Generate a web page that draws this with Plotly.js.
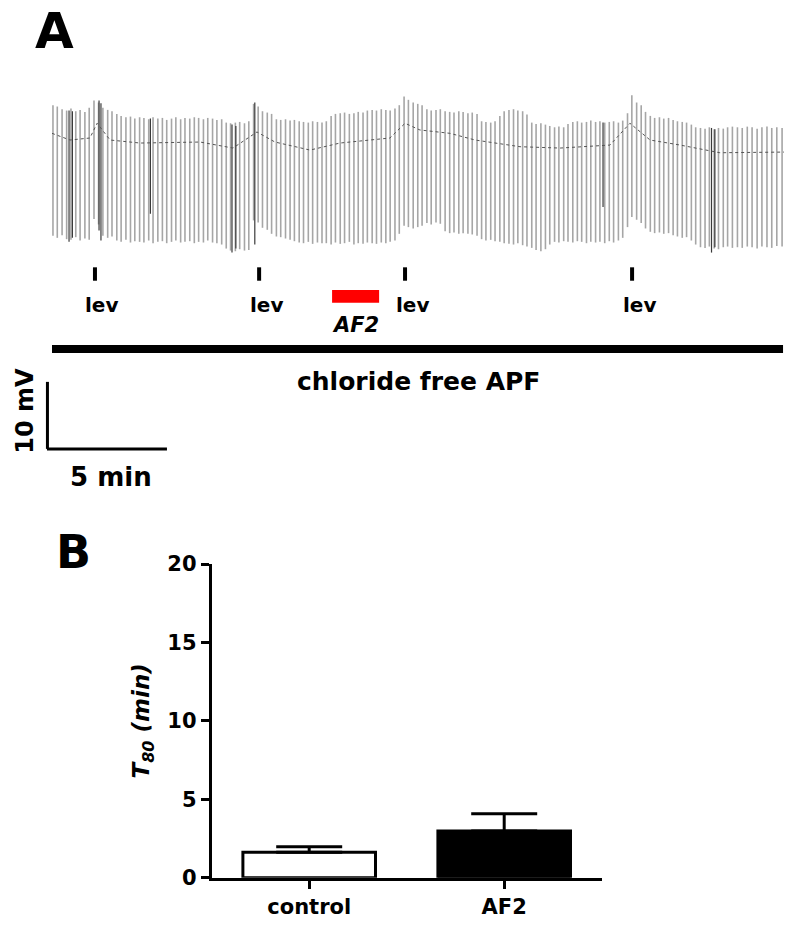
<!DOCTYPE html>
<html>
<head>
<meta charset="utf-8">
<script src="https://cdn.plot.ly/plotly-3.0.1.min.js"></script>
<style>
  body { margin: 0; background: #ffffff; }
  #chart { width: 800px; height: 929px; }
</style>
</head>
<body>
<div id="chart"></div>
<script>
// ---- panel A: membrane potential trace (time in min, potential in mV rel. to rest) ----
var spikeTime = [
  0.04, 0.22, 0.42, 0.61, 0.79, 0.99, 1.17, 1.37, 1.55, 1.75,
  1.94, 2.12, 2.32, 2.50, 2.70, 2.88, 3.08, 3.27, 3.45, 3.65,
  3.83, 4.03, 4.21, 4.41, 4.60, 4.78, 4.98, 5.16, 5.36, 5.54,
  5.74, 5.93, 6.11, 6.31, 6.49, 6.69, 6.87, 7.07, 7.26, 7.44,
  7.64, 7.82, 8.02, 8.20, 8.40, 8.59, 8.77, 8.97, 9.15, 9.35,
  9.53, 9.73, 9.92, 10.10, 10.30, 10.48, 10.68, 10.86, 11.06, 11.25,
  11.43, 11.63, 11.81, 12.01, 12.19, 12.39, 12.58, 12.76, 12.96, 13.14,
  13.34, 13.52, 13.72, 13.91, 14.09, 14.29, 14.47, 14.67, 14.85, 15.05,
  15.24, 15.42, 15.62, 15.80, 16.00, 16.18, 16.38, 16.57, 16.75, 16.95,
  17.13, 17.33, 17.51, 17.71, 17.90, 18.08, 18.28, 18.46, 18.66, 18.84,
  19.04, 19.23, 19.41, 19.61, 19.79, 19.99, 20.17, 20.37, 20.56, 20.74,
  20.94, 21.12, 21.32, 21.50, 21.70, 21.89, 22.07, 22.27, 22.45, 22.65,
  22.83, 23.03, 23.22, 23.40, 23.60, 23.78, 23.98, 24.16, 24.36, 24.55,
  24.73, 24.93, 25.11, 25.31, 25.49, 25.69, 25.88, 26.06, 26.26, 26.44,
  26.64, 26.82, 27.02, 27.21, 27.39, 27.59, 27.77, 27.97, 28.15, 28.35,
  28.56, 28.76, 28.97, 29.17, 29.38, 29.58, 29.79, 29.99, 30.20, 30.42
];
var spikeTop = [
  5.2, 5.0, 4.6, 4.4, 4.7, 4.3, 4.5, 4.2, 4.8, 5.9,
  5.6, 4.8, 4.5, 4.3, 3.9, 3.6, 3.4, 3.5, 3.2, 3.4,
  3.3, 3.1, 3.4, 3.2, 3.3, 3.0, 3.2, 3.4, 3.1, 3.3,
  3.2, 3.4, 3.3, 3.1, 3.3, 3.2, 3.0, 3.1, 2.6, 2.5,
  2.6, 2.7, 2.5, 2.8, 5.4, 5.0, 4.3, 4.1, 3.9, 3.1,
  3.0, 3.1, 2.9, 3.0, 2.8, 2.7, 2.6, 2.8, 2.7, 2.6,
  2.8, 3.6, 3.9, 4.0, 4.1, 3.9, 4.0, 4.2, 4.1, 4.4,
  4.5, 4.4, 4.6, 4.5, 4.4, 4.7, 5.2, 6.5, 6.0, 5.6,
  5.4, 5.2, 4.6, 4.4, 4.5, 4.6, 4.3, 4.2, 4.1, 4.3,
  4.2, 4.0, 4.1, 3.9, 2.8, 2.7, 2.6, 2.8, 3.6, 4.3,
  4.5, 4.6, 4.4, 4.3, 3.8, 2.6, 2.4, 2.5, 2.3, 2.1,
  1.9, 2.0, 1.9, 2.4, 2.7, 2.8, 2.6, 2.7, 2.9, 2.7,
  2.8, 2.6, 2.7, 2.8, 2.6, 2.9, 4.0, 6.7, 5.6, 5.2,
  4.2, 3.6, 3.3, 3.4, 3.2, 3.3, 3.0, 2.8, 2.7, 2.6,
  2.3, 1.9, 1.8, 1.7, 1.9, 1.6, 1.8, 1.7, 1.9, 2.0,
  1.9, 1.8, 2.0, 1.9, 1.7, 1.9, 2.0, 1.8, 1.9, 1.8
];
var spikeBottom = [
  -14.3, -14.6, -14.2, -14.8, -14.9, -14.5, -15.0, -14.7, -14.9, -11.8,
  -12.6, -14.3, -14.6, -14.4, -15.0, -15.2, -14.9, -15.3, -15.1, -15.2,
  -15.3, -15.0, -15.4, -15.2, -15.1, -15.4, -15.2, -15.0, -15.3, -15.2,
  -15.1, -15.4, -15.2, -15.3, -15.0, -15.3, -15.4, -15.6, -16.2, -16.5,
  -16.6, -16.3, -16.5, -16.4, -12.0, -12.3, -13.1, -13.4, -14.0, -14.4,
  -14.5, -14.7, -14.9, -15.1, -15.3, -15.4, -15.2, -15.5, -15.3, -15.4,
  -15.4, -15.6, -15.3, -15.5, -15.4, -15.2, -15.6, -15.4, -15.5, -15.3,
  -15.4, -15.5, -15.3, -15.4, -15.2, -15.0, -14.0, -12.8, -13.0, -13.2,
  -13.0, -12.8, -12.4, -12.6, -12.3, -12.5, -13.6, -13.9, -13.8, -14.0,
  -13.9, -14.0, -14.1, -14.3, -14.8, -15.0, -14.9, -15.1, -15.2, -15.4,
  -15.5, -15.6, -15.4, -15.7, -15.9, -16.1, -16.4, -16.6, -16.3, -15.6,
  -15.2, -15.3, -15.1, -15.2, -15.3, -15.1, -15.2, -15.4, -15.2, -15.3,
  -15.2, -15.4, -15.1, -15.3, -15.0, -14.6, -13.0, -11.5, -11.9, -12.4,
  -13.2, -13.7, -13.9, -13.8, -14.0, -13.9, -14.2, -14.4, -14.6, -14.5,
  -15.0, -15.6, -16.0, -16.1, -15.9, -16.2, -16.3, -16.0, -15.9, -16.1,
  -16.0, -16.1, -15.9, -16.0, -16.2, -15.9, -16.0, -16.1, -15.8, -15.9
];
// a few darker overlapping sweeps
var darkTime = [0.71, 0.85, 1.96, 2.04, 4.10, 7.50, 7.66, 8.45, 22.96, 27.48, 27.62];
var darkTop = [4.4, 4.3, 5.9, 5.5, 3.2, 2.3, 2.1, 5.6, 2.6, 1.8, 1.6];
var darkBottom = [-15.2, -14.6, -13.5, -15.0, -11.0, -16.8, -16.2, -15.6, -10.0, -16.8, -16.0];
// resting potential line
var restTime = [0, 0.75, 1.58, 1.88, 2.42, 3.67, 6.17, 7.54, 8.54, 9.29, 10.75, 12.0,
  14.08, 14.71, 15.33, 16.58, 17.63, 19.5, 21.17, 23.25, 24.08, 24.92, 26.17, 27.83, 30.5];
var restV = [1.0, 0, 0.3, 2.5, 0, -0.45, -0.3, -1.2, 1.2, -0.3, -1.5, -0.45,
  0.3, 2.5, 1.5, 1.0, 0, -1.0, -1.2, -0.75, 2.5, 0, -0.75, -1.9, -1.8];

// levamisole applications and AF2 / perfusion periods (min)
var levTime = [1.79, 8.63, 14.71, 24.17];
var af2Period = [11.67, 13.63];
var perfusionPeriod = [0, 30.46];
var perfusionLabel = 'chloride free APF';
// scale bars
var scaleV = 10;   // mV
var scaleT = 5;    // min

// ---- panel B: T80 ----
var groups = ['control', 'AF2'];
var t80Mean = [1.62, 2.97];
var t80Sem = [0.35, 1.10];
var barColors = ['#ffffff', '#000000'];

var FONT = 'DejaVu Sans, Verdana, sans-serif';

// build vertical spike segments
function segments(t, lo, hi) {
  var xs = [], ys = [];
  for (var i = 0; i < t.length; i++) {
    xs.push(t[i], t[i], null);
    ys.push(lo[i], hi[i], null);
  }
  return {x: xs, y: ys};
}
var spk = segments(spikeTime, spikeBottom, spikeTop);
var dark = segments(darkTime, darkBottom, darkTop);
var levMark = segments(levTime, levTime.map(function () { return -21.0; }),
                       levTime.map(function () { return -19.0; }));

var traces = [
  {x: spk.x, y: spk.y, type: 'scatter', mode: 'lines', xaxis: 'x', yaxis: 'y',
   line: {color: '#a6a6a6', width: 1.6}, hoverinfo: 'skip'},
  {x: dark.x, y: dark.y, type: 'scatter', mode: 'lines', xaxis: 'x', yaxis: 'y',
   line: {color: '#3a3a3a', width: 1.2}, hoverinfo: 'skip'},
  {x: restTime, y: restV, type: 'scatter', mode: 'lines', xaxis: 'x', yaxis: 'y',
   line: {color: '#555555', width: 1, dash: 'dot'}, hoverinfo: 'skip'},
  {x: levMark.x, y: levMark.y, type: 'scatter', mode: 'lines', xaxis: 'x', yaxis: 'y',
   line: {color: '#000000', width: 4}, hoverinfo: 'skip'},
  // panel B bars
  {x: groups, y: t80Mean, type: 'bar', xaxis: 'x2', yaxis: 'y2', width: 0.68,
   marker: {color: barColors, line: {color: '#000000', width: 3}},
   error_y: {type: 'data', array: t80Sem, symmetric: false, arrayminus: [0, 0],
             color: '#000000', thickness: 3, width: 33},
   hoverinfo: 'skip'}
];

var annotations = [
  {text: 'A', xref: 'paper', yref: 'paper', x: 54 / 800, y: 1 - 31 / 929,
   xanchor: 'center', yanchor: 'middle', showarrow: false,
   font: {family: FONT, size: 50, weight: 'bold', color: '#000'}},
  {text: 'B', xref: 'paper', yref: 'paper', x: 73 / 800, y: 1 - 552 / 929,
   xanchor: 'center', yanchor: 'middle', showarrow: false,
   font: {family: FONT, size: 46, weight: 'bold', color: '#000'}},
  {text: 'AF2', xref: 'x', yref: 'y', x: (af2Period[0] + af2Period[1]) / 2, y: -27.6,
   showarrow: false, font: {family: FONT, size: 21, weight: 'bold', style: 'italic', color: '#000'}},
  {text: perfusionLabel, xref: 'x', yref: 'y', x: 15.25, y: -36.0, showarrow: false,
   font: {family: FONT, size: 25, weight: 'bold', color: '#000'}},
  {text: scaleV + ' mV', xref: 'x', yref: 'y', x: -1.12, y: -40.4, textangle: -90, showarrow: false,
   font: {family: FONT, size: 24, weight: 'bold', color: '#000'}},
  {text: scaleT + ' min', xref: 'x', yref: 'y', x: 2.46, y: -50.3, showarrow: false,
   font: {family: FONT, size: 26, weight: 'bold', color: '#000'}}
];
levTime.forEach(function (t) {
  annotations.push({text: 'lev', xref: 'x', yref: 'y', x: t, xshift: 7, y: -24.6, showarrow: false,
    font: {family: FONT, size: 20, weight: 'bold', color: '#000'}});
});

var shapes = [
  // AF2 application
  {type: 'rect', xref: 'x', yref: 'y', x0: af2Period[0], x1: af2Period[1], y0: -24.3, y1: -22.4,
   fillcolor: '#ff0000', line: {width: 0}},
  // chloride free perfusion
  {type: 'line', xref: 'x', yref: 'y', x0: perfusionPeriod[0], x1: perfusionPeriod[1], y0: -31.2, y1: -31.2,
   line: {color: '#000000', width: 8}},
  // scale bars
  {type: 'line', xref: 'x', yref: 'y', x0: -0.19, x1: -0.19, y0: -46.1 + scaleV, y1: -46.1,
   line: {color: '#000000', width: 3}},
  {type: 'line', xref: 'x', yref: 'y', x0: -0.21, x1: -0.21 + scaleT, y0: -46.1, y1: -46.1,
   line: {color: '#000000', width: 3}}
];

var tickFont = {family: FONT, size: 21, weight: 'bold', color: '#000'};

var layout = {
  width: 800,
  height: 929,
  margin: {l: 0, r: 0, t: 0, b: 0},
  paper_bgcolor: '#ffffff',
  plot_bgcolor: 'rgba(0,0,0,0)',
  showlegend: false,
  hovermode: false,
  // panel A axes (hidden, used for positioning the trace)
  xaxis: {domain: [0, 1], range: [-52 / 24, 748 / 24], visible: false, fixedrange: true},
  yaxis: {domain: [1 - 500 / 929, 1], range: [-53.73, 20.90], visible: false, fixedrange: true},
  // panel B axes
  xaxis2: {domain: [211.7 / 800, 601.7 / 800], anchor: 'y2', range: [-0.5, 1.5],
           showline: true, linecolor: '#000', linewidth: 3, ticks: 'outside', ticklen: 8,
           tickwidth: 3, tickcolor: '#000', tickfont: tickFont, showgrid: false, zeroline: false,
           fixedrange: true},
  yaxis2: {domain: [1 - 877.7 / 929, 1 - 564 / 929], anchor: 'x2', range: [0, 20],
           tickvals: [0, 5, 10, 15, 20], showline: true, linecolor: '#000', linewidth: 3,
           ticks: 'outside', ticklen: 8, tickwidth: 3, tickcolor: '#000', tickfont: tickFont,
           showgrid: false, zeroline: false, fixedrange: true,
           title: {text: '<i>T<sub>80</sub> (min)</i>', standoff: 12,
                   font: {family: FONT, size: 23, weight: 'bold', color: '#000'}}},
  annotations: annotations,
  shapes: shapes
};

Plotly.newPlot('chart', traces, layout, {displayModeBar: false, staticPlot: true});
</script>
</body>
</html>
